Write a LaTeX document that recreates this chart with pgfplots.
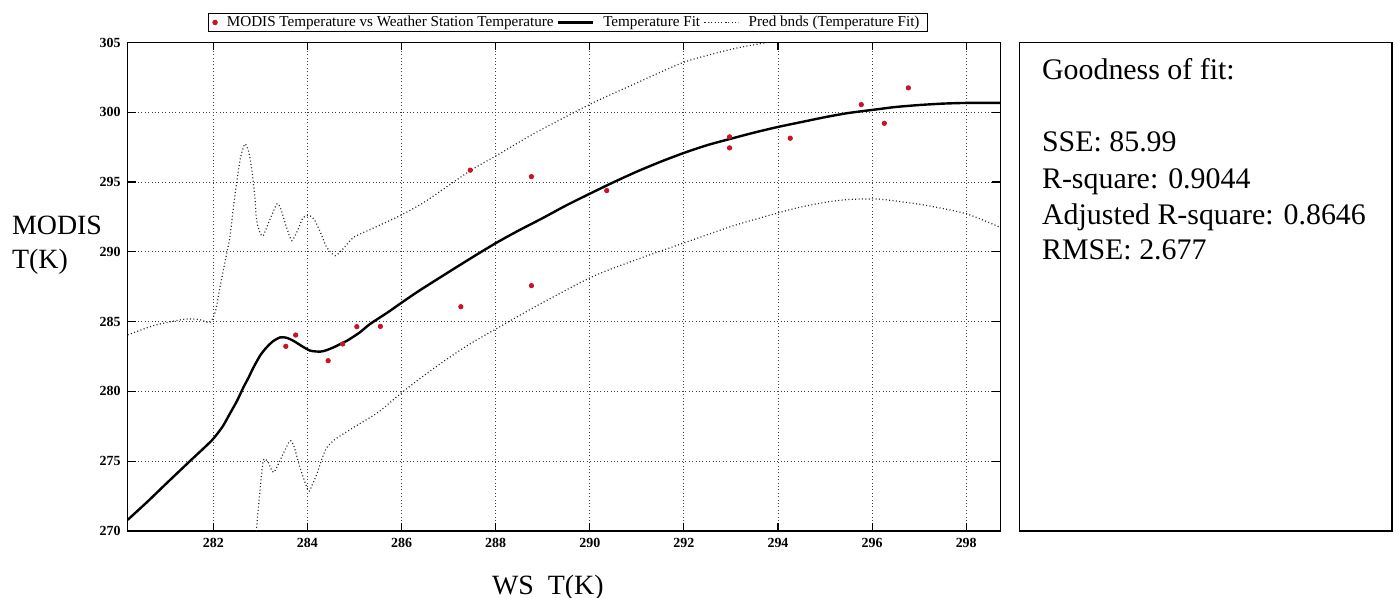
\documentclass[border=0pt]{standalone}
\usepackage{fontspec}
\setmainfont{Liberation Serif}
\usepackage{pgfplots}
\pgfplotsset{compat=1.18}

\definecolor{ptred}{RGB}{200,20,40}

\begin{document}
\begin{tikzpicture}
\path[use as bounding box] (0,0) rectangle (700bp,299bp);
\begin{axis}[
  at={(63.85bp,33.5bp)}, anchor=south west,
  width=436.2bp, height=244.25bp, scale only axis,
  xmin=280.18, xmax=298.72, ymin=270, ymax=305,
  xtick={282,284,...,298}, ytick={270,275,...,305},
  grid=major,
  major grid style={black!75, line width=0.4bp, dash pattern=on 0.4bp off 1.3bp},
  axis line style={line width=0.6bp},
  tick style={black, line width=0.6bp},
  major tick length=4bp, tick align=inside,
  tick label style={font=\fontsize{7}{8}\selectfont\bfseries},
  /pgf/number format/assume math mode=true,
  legend columns=3,
  legend style={at={(0.5047,1.041)}, anchor=center, draw=black, line width=0.5bp,
    font=\fontsize{7.6}{8}\selectfont, inner xsep=2bp, inner ysep=0.6bp,
    nodes={inner xsep=1.8bp, inner ysep=0.3bp, text height=5.4bp, text depth=1.7bp},
    /tikz/every odd column/.append style={column sep=3bp}},
]
% data points
\addplot[only marks, mark=*, mark size=1.1bp, ptred] coordinates {
(283.54,283.23) (283.75,284.04) (284.44,282.2) (284.75,283.4) (285.05,284.64)
(285.55,284.66) (287.26,286.07) (287.46,295.85) (288.76,295.39) (288.76,287.58)
(290.36,294.39) (292.97,298.24) (292.97,297.45) (294.26,298.14) (295.77,300.55)
(296.26,299.21) (296.77,301.75)
};
\addlegendentry{MODIS Temperature vs Weather Station Temperature}
% fitted curve
\addplot[black, line width=1.2bp, smooth, tension=0.4] coordinates {
(280.18,270.8) (280.6,272.1) (281.0,273.4) (281.5,275.0) (281.97,276.5)
(282.2,277.5) (282.35,278.4) (282.5,279.3) (282.64,280.3) (282.75,281.0)
(282.85,281.7) (283.0,282.6) (283.13,283.15) (283.27,283.6) (283.42,283.87)
(283.55,283.85) (283.7,283.63) (283.88,283.25) (284.06,282.92) (284.27,282.85)
(284.4,282.95) (284.55,283.15) (284.7,283.4) (284.84,283.63) (285.1,284.2)
(285.33,284.83) (285.7,285.65) (286.04,286.45) (286.39,287.25) (287.0,288.55)
(287.5,289.6) (288.02,290.66) (288.5,291.55) (289.0,292.42) (289.5,293.33)
(290.02,294.2) (290.5,294.98) (291.0,295.75) (291.5,296.45) (292.01,297.1)
(292.5,297.65) (292.98,298.09) (293.5,298.55) (294.0,298.95) (294.47,299.28)
(295.0,299.65) (295.5,299.95) (296.17,300.24) (296.5,300.38) (297.0,300.52)
(297.5,300.62) (298.0,300.67) (298.72,300.67)
};
\addlegendentry{Temperature Fit}
% prediction bounds
\addplot[black!85, line width=0.6bp, dash pattern=on 0.5bp off 1.2bp, smooth, tension=0.4] coordinates {
(280.18,284.05) (280.72,284.71) (281.1,285.0) (281.43,285.19) (281.7,285.15)
(281.93,284.95) (282.05,285.8) (282.14,287.46) (282.25,289.3) (282.35,291.04)
(282.42,293.0) (282.5,295.1) (282.58,296.8) (282.67,297.73) (282.75,297.2)
(282.82,295.82) (282.88,294.0) (282.92,292.24) (283.0,291.3) (283.06,291.16)
(283.2,292.3) (283.35,293.43) (283.42,293.2) (283.49,292.47) (283.58,291.5)
(283.67,290.8) (283.8,291.6) (283.91,292.47) (284.05,292.6) (284.16,292.24)
(284.3,291.2) (284.41,290.32) (284.59,289.73) (284.78,290.3) (284.98,291.04)
(285.4,291.7) (285.97,292.6) (286.5,293.6) (287.46,295.82) (288.02,296.9)
(288.8,298.45) (290.02,300.6) (290.93,302.0) (292.01,303.6) (293.05,304.55)
(293.76,305.0) (294.5,305.5)
};
\addlegendentry{Pred bnds (Temperature Fit)}
\addplot[forget plot, black!85, line width=0.6bp, dash pattern=on 0.5bp off 1.2bp, smooth, tension=0.4] coordinates {
(282.9,269.5) (282.98,272.5) (283.06,275.03) (283.15,275.0) (283.28,274.2)
(283.45,275.3) (283.63,276.47) (283.72,276.0) (283.84,274.55) (284.02,272.88)
(284.1,273.3) (284.2,274.08) (284.3,275.1) (284.41,275.98) (284.6,276.6)
(284.98,277.42) (285.5,278.5) (286.0,279.9) (286.5,281.2) (287.0,282.4)
(287.5,283.5) (288.02,284.5) (288.8,286.0) (290.02,288.17) (290.93,289.37)
(292.01,290.65) (293.05,291.87) (294.04,292.83) (294.47,293.2) (295.0,293.55)
(295.5,293.75) (296.1,293.79) (296.6,293.6) (297.2,293.3) (298.01,292.72)
(298.72,291.76)
};
\end{axis}
% axis labels
\node[anchor=base west, inner sep=0, font=\fontsize{14}{17}\selectfont] at (5.85bp,181.85bp) {MODIS};
\node[anchor=base west, inner sep=0, font=\fontsize{14}{17}\selectfont] at (5.85bp,164.8bp) {T(K)};
\node[anchor=base west, inner sep=0, font=\fontsize{14}{17}\selectfont] at (245.85bp,2bp) {WS\ \ T(K)};
% goodness of fit box
\draw[line width=0.7bp] (509.75bp,33.5bp) rectangle (696bp,277.75bp);
\begin{scope}[every node/.style={anchor=base west, inner sep=0, font=\fontsize{15}{18}\selectfont}]
\node at (520.85bp,259bp) {Goodness of fit:};
\node at (520.85bp,223.15bp) {SSE: 85.99};
\node at (520.85bp,204.85bp) {R-square: 0.9044};
\node at (520.85bp,186.85bp) {Adjusted R-square: 0.8646};
\node at (520.85bp,169bp) {RMSE: 2.677};
\end{scope}
\end{tikzpicture}
\end{document}
